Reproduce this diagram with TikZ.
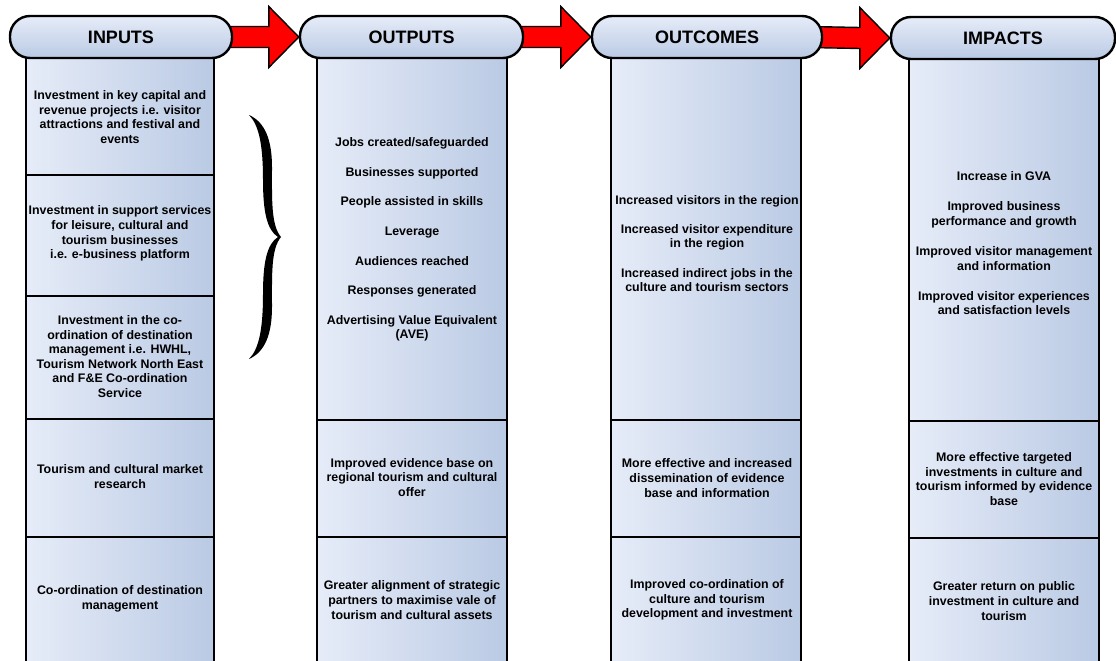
\documentclass[tikz,border=0pt]{standalone}
\usepackage{fontspec}
\setmainfont{Liberation Sans}
\usetikzlibrary{fit,backgrounds}

\definecolor{paleblue}{RGB}{230,236,248}
\definecolor{midblue}{RGB}{186,202,228}
\definecolor{arrowred}{RGB}{255,0,0}

\tikzset{
  cell/.style={draw=black, line width=2.6pt, inner sep=0pt,
    left color=paleblue, right color=midblue},
  header/.style={draw=black, line width=2.4pt, rounded corners=20pt,
    top color=paleblue, bottom color=midblue, inner sep=0pt,
    minimum height=42pt, font=\fontsize{18}{21}\selectfont\bfseries},
  txt/.style={align=center, inner sep=0pt,
    font=\fontsize{12.4}{14.6}\selectfont\bfseries},
  flow/.style={fill=arrowred, draw=black, line width=1.4pt, line join=miter},
}

% block arrow from one header to the next
\newcommand{\flowarrow}[2]{%
  \draw[flow] ([xshift=-14pt,yshift=10.5pt]#1.east)
    -- ([xshift=-30pt,yshift=10.5pt]#2.west)
    -- ([xshift=-30pt,yshift=30.5pt]#2.west)
    -- (#2.west)
    -- ([xshift=-30pt,yshift=-30.5pt]#2.west)
    -- ([xshift=-30pt,yshift=-10.5pt]#2.west)
    -- ([xshift=-14pt,yshift=-10.5pt]#1.east) -- cycle;}

\begin{document}
\begin{tikzpicture}[x=1pt,y=-1pt]
\useasboundingbox (0,0) rectangle (1116,661);

% ---- column cells ----
\node[cell, fit={(26,58) (214,175)}]  (in1) {};
\node[cell, fit={(26,175) (214,296)}] (in2) {};
\node[cell, fit={(26,296) (214,419)}] (in3) {};
\node[cell, fit={(26,419) (214,537)}] (in4) {};
\node[cell, fit={(26,537) (214,670)}] (in5) {};

\node[cell, fit={(317,58) (507,420)}]  (op1) {};
\node[cell, fit={(317,420) (507,537)}] (op2) {};
\node[cell, fit={(317,537) (507,670)}] (op3) {};

\node[cell, fit={(611,58) (801,420)}]  (oc1) {};
\node[cell, fit={(611,420) (801,537)}] (oc2) {};
\node[cell, fit={(611,537) (801,670)}] (oc3) {};

\node[cell, fit={(909,58) (1099,421)}]  (im1) {};
\node[cell, fit={(909,421) (1099,538)}] (im2) {};
\node[cell, fit={(909,538) (1099,670)}] (im3) {};

% ---- headers ----
\node[header, minimum width=222pt] (hin)  at (121,37)    {INPUTS};
\node[header, minimum width=223pt] (hout) at (411.5,37)  {OUTPUTS};
\node[header, minimum width=230pt] (hoc)  at (707,37)    {OUTCOMES};
\node[header, minimum width=224pt] (him)  at (1003,38)   {IMPACTS};

% ---- arrows between headers ----
\begin{scope}[on background layer]
  \flowarrow{hin}{hout}
  \flowarrow{hout}{hoc}
  \flowarrow{hoc}{him}
\end{scope}

% ---- brace grouping the first three inputs ----
\fill[black]
  (249,115) .. controls (265,122) and (272,140) .. (272,167)
  .. controls (272,200) and (271,225) .. (281,237)
  .. controls (271,249) and (272,274) .. (272,307)
  .. controls (272,334) and (265,352) .. (249,359)
  .. controls (259,349) and (263,329) .. (263,294)
  .. controls (263,262) and (267,244) .. (278,237)
  .. controls (267,230) and (263,212) .. (263,180)
  .. controls (263,145) and (259,125) .. (249,115) -- cycle;

% ---- inputs ----
\node[txt] (tin1) at (120,117)   {Investment in key capital and\\revenue projects i.e. visitor\\attractions and festival and\\events};
\node[txt] (tin2) at (120,233.5) {Investment in support services\\for leisure, cultural and\\tourism businesses\\i.e. e-business platform};
\node[txt] (tin3) at (120,356.5) {Investment in the co-\\ordination of destination\\management i.e. HWHL,\\Tourism Network North East\\and F\&E Co-ordination\\Service};
\node[txt] (tin4) at (120,476.5) {Tourism and cultural market\\research};
\node[txt] (tin5) at (120,599)   {Co-ordination of destination\\management};

% ---- outputs ----
\node[txt] (top1) at (412,239.5) {Jobs created/safeguarded\\[15pt]Businesses supported\\[15pt]People assisted in skills\\[15pt]Leverage\\[15pt]Audiences reached\\[15pt]Responses generated\\[15pt]Advertising Value Equivalent\\(AVE)};
\node[txt] (top2) at (412,477.5) {Improved evidence base on\\regional tourism and cultural\\offer};
\node[txt] (top3) at (412,600)   {Greater alignment of strategic\\partners to maximise vale of\\tourism and cultural assets};

% ---- outcomes ----
\node[txt] (toc1) at (707,243.5) {Increased visitors in the region\\[14.5pt]Increased visitor expenditure\\in the region\\[14.5pt]Increased indirect jobs in the\\culture and tourism sectors};
\node[txt] (toc2) at (707,478) {More effective and increased\\dissemination of evidence\\base and information};
\node[txt] (toc3) at (707,600) {Improved co-ordination of\\culture and tourism\\development and investment};

% ---- impacts ----
\node[txt] (tim1) at (1004,243.5) {Increase in GVA\\[15.5pt]Improved business\\performance and growth\\[15.5pt]Improved visitor management\\and information\\[15.5pt]Improved visitor experiences\\and satisfaction levels};
\node[txt] (tim2) at (1004,479) {More effective targeted\\investments in culture and\\tourism informed by evidence\\base};
\node[txt] (tim3) at (1004,601) {Greater return on public\\investment in culture and\\tourism};
\end{tikzpicture}
\end{document}
